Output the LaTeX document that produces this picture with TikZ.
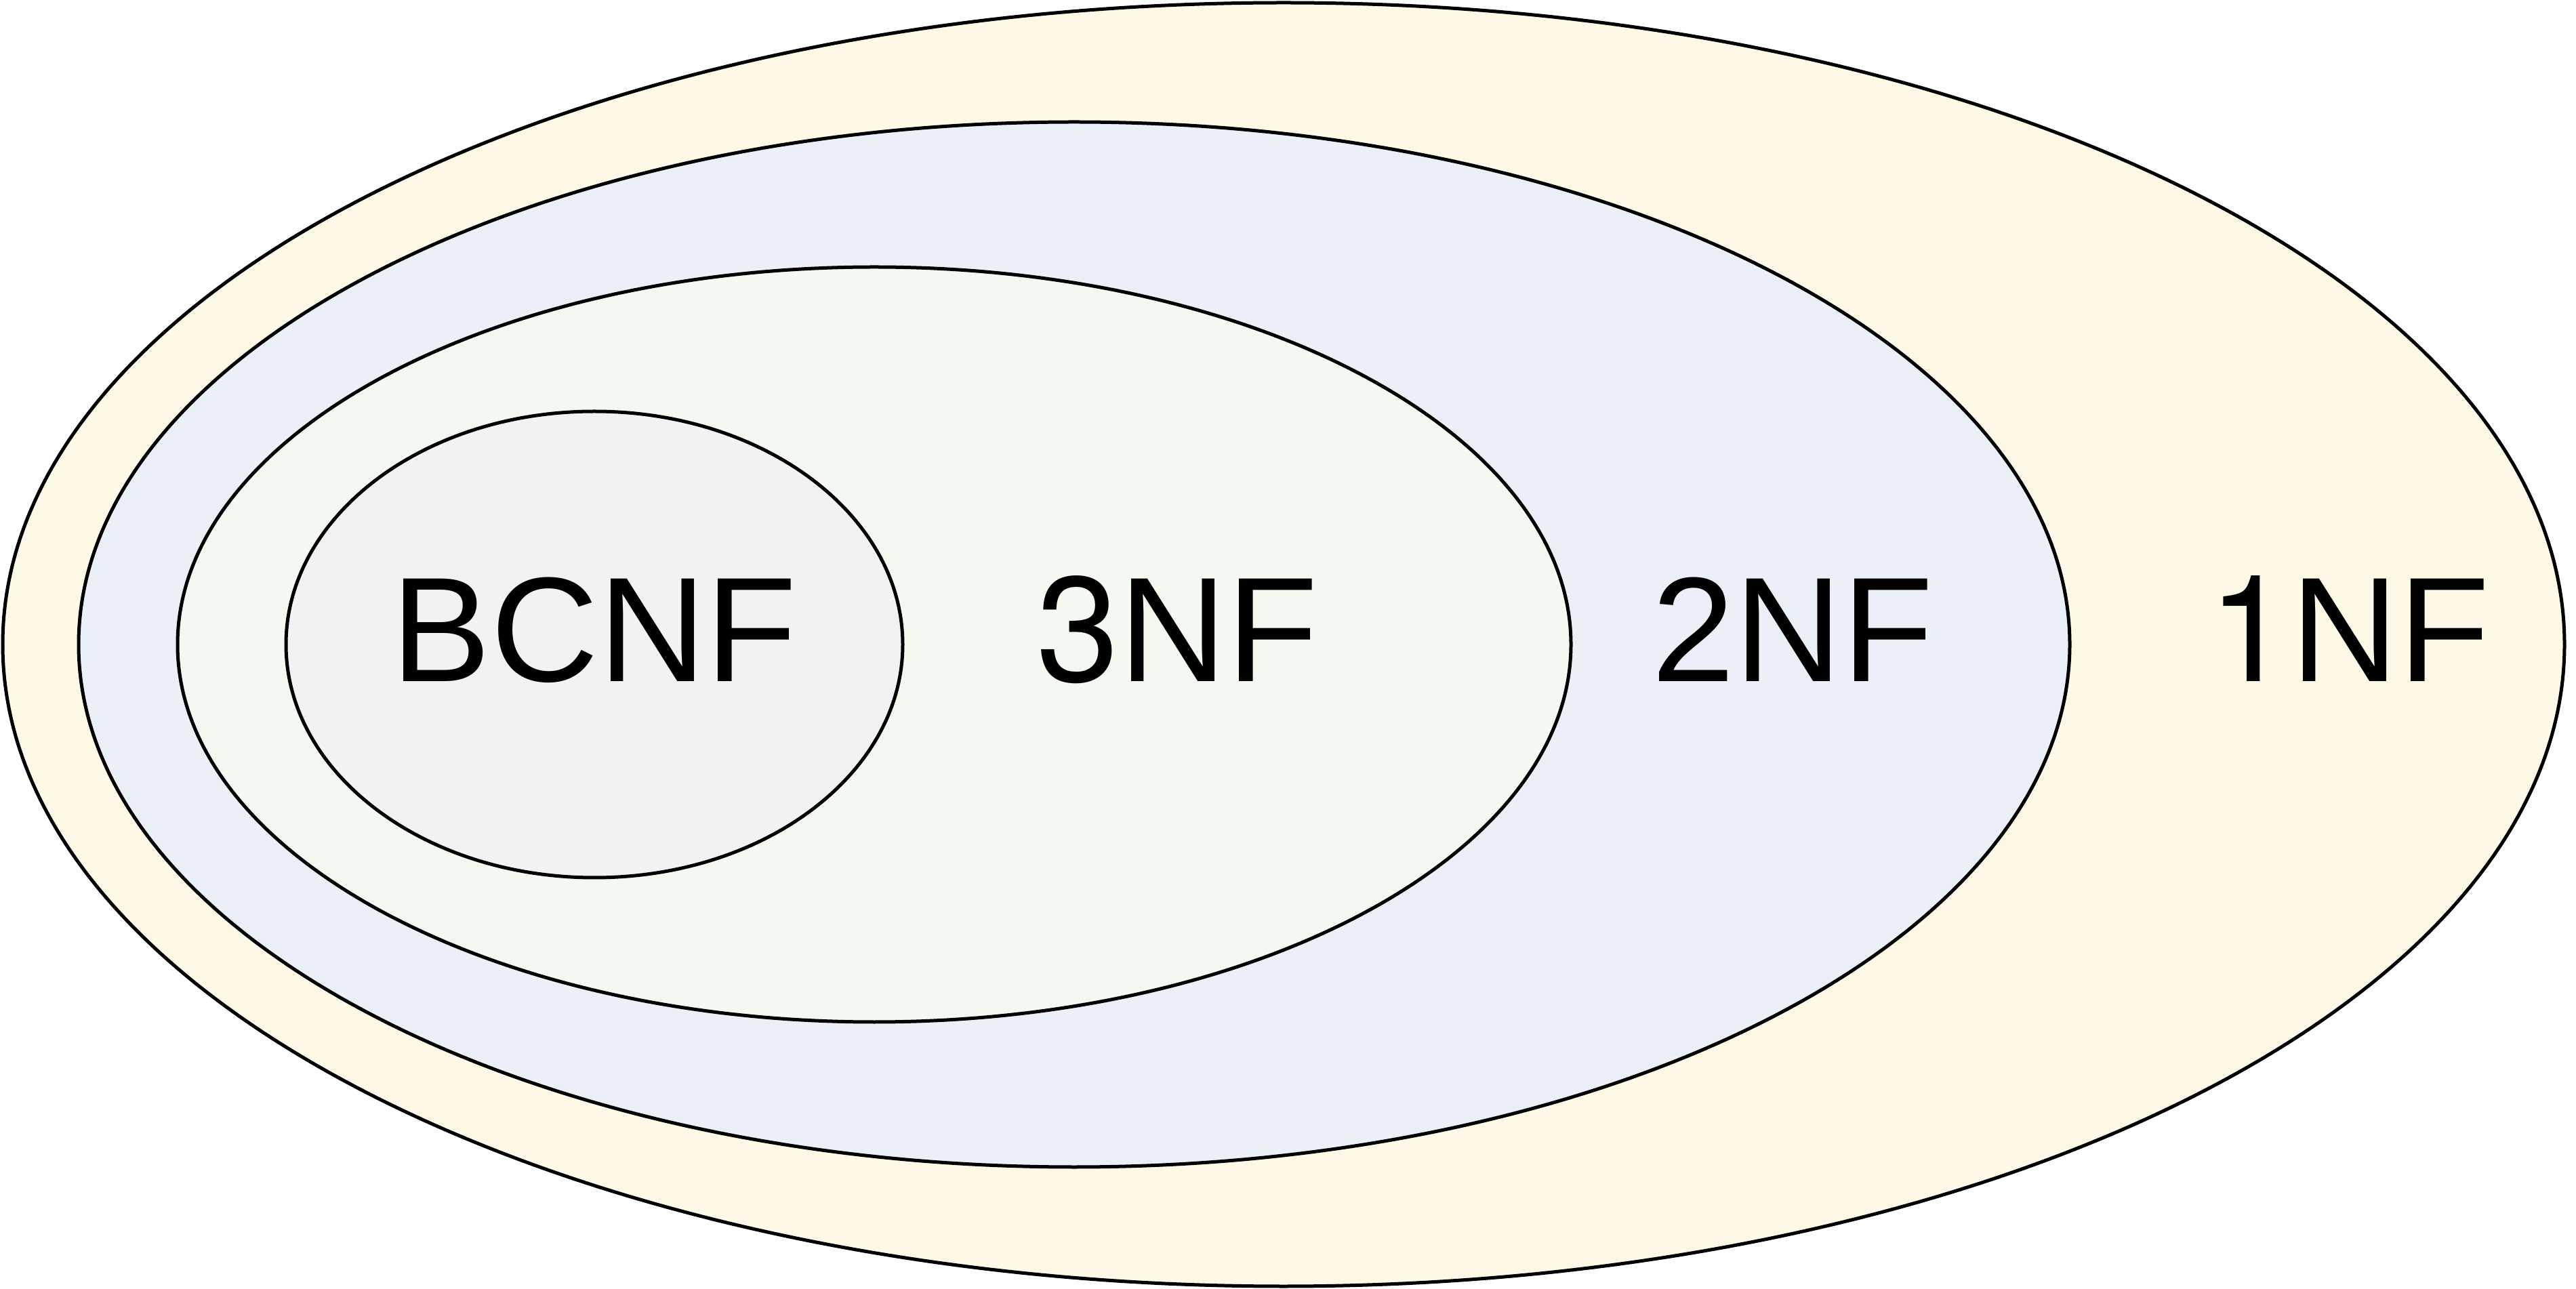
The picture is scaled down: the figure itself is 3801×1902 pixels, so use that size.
\documentclass[tikz,border=0pt]{standalone}
\usepackage{fontspec}
\setmainfont{Liberation Sans}
\newfontfamily\digitfont{TeX Gyre Heros}
\definecolor{nfone}{HTML}{FEF8E7}
\definecolor{nftwo}{HTML}{EBEFF8}
\definecolor{nfthree}{HTML}{F3F8F1}
\definecolor{nfbc}{HTML}{F2F2F2}
\begin{document}
\begin{tikzpicture}[x=0.2pt,y=-0.2pt,
  setshape/.style={draw=black,line width=1pt},
  setlabel/.style={anchor=base,inner sep=0pt,font=\fontsize{44}{52}\selectfont,text=black}]
\useasboundingbox (0,0) rectangle (3801,1902);
\filldraw[setshape,fill=nfone] (1894,951) ellipse [x radius=1890, y radius=947];
\filldraw[setshape,fill=nftwo] (1585,951) ellipse [x radius=1469, y radius=771];
\filldraw[setshape,fill=nfthree] (1290,951) ellipse [x radius=1028, y radius=557];
\filldraw[setshape,fill=nfbc] (877,951) ellipse [x radius=455, y radius=344];
\node[setlabel] (bcnf) at (877,1006) {BCNF};
\node[setlabel] (nf3) at (1737,1006) {{\digitfont 3}NF};
\node[setlabel] (nf2) at (2645,1006) {2NF};
\node[setlabel] (nf1) at (3466,1006) {{\digitfont 1}NF};
\end{tikzpicture}
\end{document}
